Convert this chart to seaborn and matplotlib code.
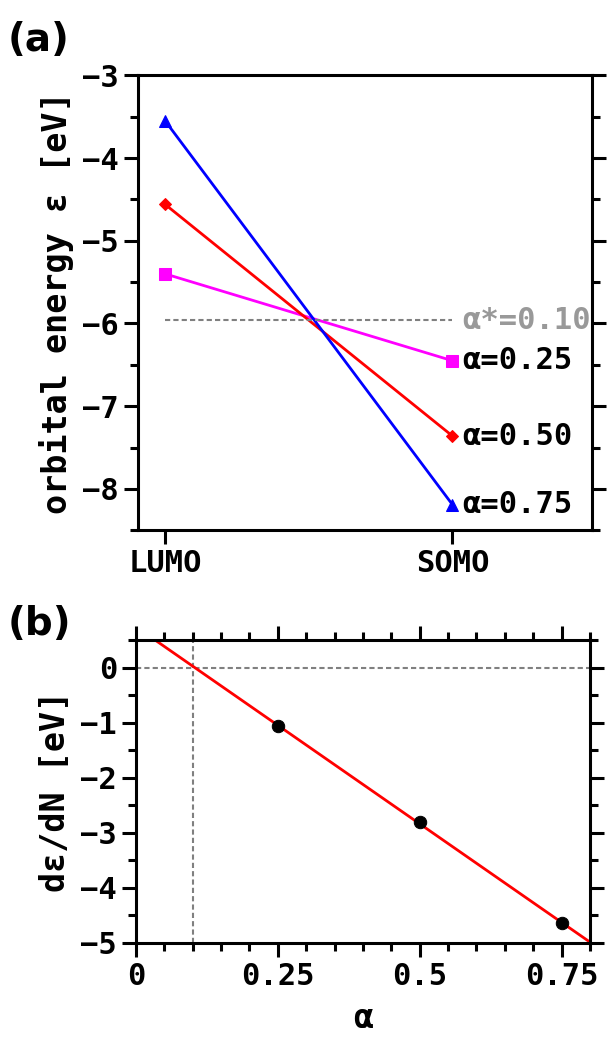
import numpy as np
import pandas as pd
import matplotlib
matplotlib.use("Agg")
import matplotlib.pyplot as plt
from matplotlib.ticker import MultipleLocator, FixedLocator
import seaborn as sns

# ---- data ----
orbitals = ["LUMO", "SOMO"]
alphas = [0.25, 0.50, 0.75]
eps_lumo = [-5.40, -4.56, -3.55]
eps_somo = [-6.45, -7.36, -8.19]
alpha_star = 0.10
eps_star = -5.96
series_colors = ["#ff00ff", "#ff0000", "#0000ff"]
series_markers = ["s", "D", "^"]
series_msize = [9, 6, 9]

deriv_alpha = [0.25, 0.50, 0.75]
deriv_value = [-1.06, -2.81, -4.64]
b_xticks = [0, 0.25, 0.5, 0.75]
b_xticklabels = ["0", "0.25", "0.5", "0.75"]

sns.set_theme(style="ticks")
plt.rcParams["font.family"] = ["DejaVu Sans Mono", "DejaVu Sans"]
plt.rcParams["font.weight"] = "bold"
plt.rcParams["axes.labelweight"] = "bold"
plt.rcParams["axes.linewidth"] = 2.2
plt.rcParams["axes.edgecolor"] = "black"
plt.rcParams["text.color"] = "black"
plt.rcParams["axes.labelcolor"] = "black"
plt.rcParams["xtick.color"] = "black"
plt.rcParams["ytick.color"] = "black"
plt.rcParams["xtick.labelcolor"] = "black"
plt.rcParams["ytick.labelcolor"] = "black"

fig = plt.figure(figsize=(6.07, 10.46), dpi=100)
ax1 = fig.add_axes([0.227, 0.493, 0.748, 0.435])
ax2 = fig.add_axes([0.224, 0.0985, 0.748, 0.2895])

TICK_FS = 22
LAB_FS = 24

# ---- panel (a) ----
rows = []
for a, lo, so in zip(alphas, eps_lumo, eps_somo):
    rows.append({"pos": 0, "eps": lo, "alpha": a})
    rows.append({"pos": 1, "eps": so, "alpha": a})
df = pd.DataFrame(rows)
for a, c, m, ms in zip(alphas, series_colors, series_markers, series_msize):
    sub = df[df["alpha"] == a]
    sns.lineplot(data=sub, x="pos", y="eps", ax=ax1, color=c, marker=m,
                 markersize=ms, markeredgecolor=c, linewidth=2.0, legend=False)
    ax1.text(1.035, sub["eps"].iloc[1], f"α={a:.2f}", fontsize=TICK_FS,
             fontweight="bold", va="center", ha="left", color="black")

sns.lineplot(x=[0, 1], y=[eps_star, eps_star], ax=ax1, color="#808080",
             linestyle=(0, (2.5, 1.5)), linewidth=1.5, legend=False)
ax1.text(1.035, eps_star, f"α*={alpha_star:.2f}", fontsize=TICK_FS,
         fontweight="bold", va="center", ha="left", color="#999999")

ax1.set_xlim(-0.095, 1.485)
ax1.set_ylim(-8.5, -3)
ax1.xaxis.set_major_locator(FixedLocator([0, 1]))
ax1.set_xticklabels(orbitals)
ax1.yaxis.set_major_locator(MultipleLocator(1))
ax1.yaxis.set_minor_locator(MultipleLocator(0.5))
ax1.tick_params(axis="y", which="both", left=True, right=True, direction="out")
ax1.tick_params(axis="both", which="major", length=10, width=2.2, labelsize=TICK_FS)
ax1.tick_params(axis="y", which="minor", length=6, width=2.2)
ax1.set_xlabel("")
ax1.set_ylabel("orbital energy ε [eV]", fontsize=LAB_FS, fontweight="bold", labelpad=6)
for s in ax1.spines.values():
    s.set_visible(True)
    s.set_linewidth(2.2)

# ---- panel (b) ----
ax2.set_xlim(0, 0.8)
ax2.set_ylim(-5, 0.5)
ax2.axhline(0, color="#808080", linestyle=(0, (2.5, 1.5)), linewidth=1.5)
ax2.axvline(alpha_star, color="#808080", linestyle=(0, (2.5, 1.5)), linewidth=1.5)
sns.regplot(x=deriv_alpha, y=deriv_value, ax=ax2, scatter=False, ci=None,
            truncate=False, color="red", line_kws={"linewidth": 2.0})
sns.scatterplot(x=deriv_alpha, y=deriv_value, ax=ax2, color="black", s=80,
                edgecolor="black", zorder=5)
ax2.set_xlim(0, 0.8)
ax2.set_ylim(-5, 0.5)
ax2.xaxis.set_major_locator(FixedLocator(b_xticks))
ax2.set_xticklabels(b_xticklabels)
ax2.xaxis.set_minor_locator(MultipleLocator(0.05))
ax2.yaxis.set_major_locator(MultipleLocator(1))
ax2.yaxis.set_minor_locator(MultipleLocator(0.5))
ax2.tick_params(axis="both", which="both", left=True, right=True, top=True,
                bottom=True, direction="out")
ax2.tick_params(axis="both", which="major", length=10, width=2.2, labelsize=TICK_FS)
ax2.tick_params(axis="both", which="minor", length=6, width=2.2)
ax2.set_xlabel("α", fontsize=LAB_FS, fontweight="bold", labelpad=8)
ax2.set_ylabel("dε/dN [eV]", fontsize=LAB_FS, fontweight="bold", labelpad=6)
for s in ax2.spines.values():
    s.set_visible(True)
    s.set_linewidth(2.2)

fig.text(0.012, 0.962, "(a)", fontsize=28, fontweight="bold",
         family="DejaVu Sans", va="center", ha="left", color="black")
fig.text(0.012, 0.403, "(b)", fontsize=28, fontweight="bold",
         family="DejaVu Sans", va="center", ha="left", color="black")

fig.savefig("out.png", dpi=100)
